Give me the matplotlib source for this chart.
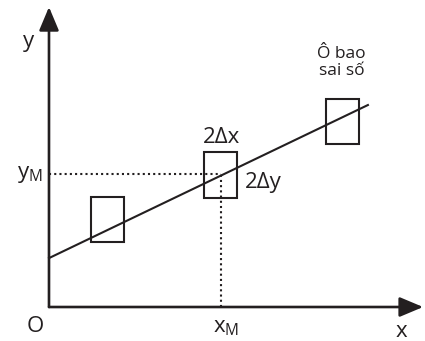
import matplotlib.pyplot as plt
from matplotlib.patches import Rectangle

plt.rcParams['font.family'] = ['Open Sans', 'DejaVu Sans']
plt.rcParams['mathtext.fontset'] = 'custom'
plt.rcParams['mathtext.rm'] = 'Open Sans'

# measured points with their error half-widths
x_pts = [1.95, 5.72, 9.78]
y_pts = [2.92, 4.40, 6.17]
dx = 0.55
dy = 0.75

# fitted line y = a + b*x
a = 1.63
b = 0.48
x_line = [0.0, 10.63]

# point M
x_M = 5.72
y_M = 4.43

ink = '#231f20'

fig = plt.figure(figsize=(4.25, 3.41), dpi=100)
ax = fig.add_axes([0, 0, 1, 1])
ax.set_xlim(-1.633, 12.533)
ax.set_ylim(-1.133, 10.233)
ax.axis('off')

# axes with arrows
arrow = dict(arrowstyle='-|>,head_length=1.0,head_width=0.42', lw=1.9,
             color=ink, mutation_scale=14.4, shrinkA=0, shrinkB=0)
ax.annotate('', xy=(0, 10.0), xytext=(0, 0), arrowprops=arrow)
ax.annotate('', xy=(12.47, 0), xytext=(0, 0), arrowprops=arrow)

# dotted guides to M
ax.plot([0, x_M], [y_M, y_M], color=ink, lw=1.5, ls=(0, (1, 1.5)))
ax.plot([x_M, x_M], [0, y_M], color=ink, lw=1.5, ls=(0, (1, 1.5)))

# error boxes
for xp, yp in zip(x_pts, y_pts):
    ax.add_patch(Rectangle((xp - dx, yp - dy), 2 * dx, 2 * dy, fill=False,
                           edgecolor=ink, lw=1.5))

# fitted line
ax.plot(x_line, [a + b * xv for xv in x_line], color=ink, lw=1.5)

fs = 16
ax.text(-0.68, 8.67, 'y', fontsize=fs, ha='center', va='baseline', color=ink)
ax.text(-0.2, 4.3, r'y$_\mathregular{M}$', fontsize=fs, ha='right',
        va='baseline', color=ink)
ax.text(-0.47, -0.83, 'O', fontsize=fs, ha='center', va='baseline', color=ink)
ax.text(5.47, -0.83, r'x$_\mathregular{M}$', fontsize=fs, ha='left',
        va='baseline', color=ink)
ax.text(11.75, -1.0, 'x', fontsize=fs, ha='center', va='baseline', color=ink)
ax.text(5.75, 5.47, '2Δx', fontsize=fs, ha='center', va='baseline', color=ink)
ax.text(6.53, 3.97, '2Δy', fontsize=fs, ha='left', va='baseline', color=ink)
ax.text(9.75, 8.3, 'Ô bao', fontsize=12.5, ha='center', va='baseline',
        color=ink)
ax.text(9.75, 7.73, 'sai số', fontsize=12.5, ha='center', va='baseline',
        color=ink)

plt.savefig('out.png', dpi=100)
